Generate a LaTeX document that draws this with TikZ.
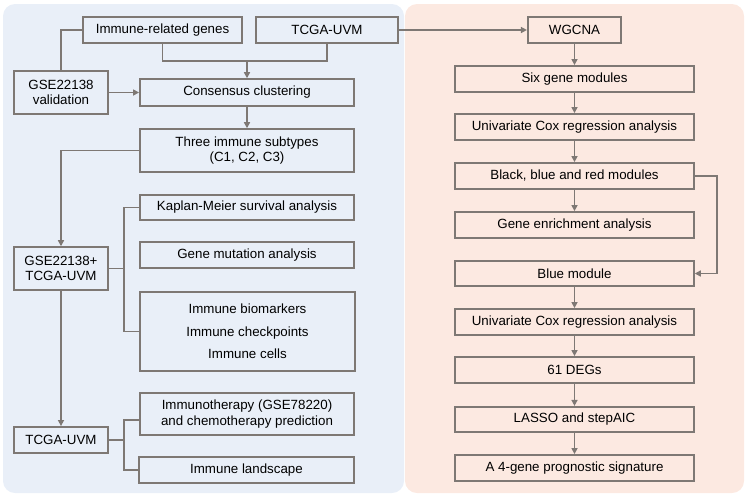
\documentclass[tikz,border=0pt]{standalone}
\usepackage{fontspec}
\setmainfont{Liberation Sans}
\usetikzlibrary{arrows.meta}

\definecolor{linegray}{RGB}{126,120,116}
\definecolor{leftbg}{RGB}{233,239,248}
\definecolor{rightbg}{RGB}{252,233,225}

\tikzset{every picture/.style={line width=1.4pt}}
\tikzset{
  box/.style={draw=linegray, line width=1.4pt, inner sep=0pt, align=center,
    font=\fontsize{10}{11.5}\selectfont},
  conn/.style={draw=linegray, line width=1.4pt},
  arr/.style={conn, -{Triangle[length=4.5pt,width=4.5pt]}}
}

\begin{document}
\begin{tikzpicture}[x=0.75pt,y=0.75pt,yscale=-1,xscale=1]
\useasboundingbox (0,0) rectangle (748,501);

%Shape: Rounded Rect [left panel]
\fill [leftbg, rounded corners=9pt] (3,4) rectangle (404,493);
%Shape: Rounded Rect [right panel]
\fill [rightbg, rounded corners=9pt] (405,4) rectangle (744,493);

% Text Node
\node (genes) [box, minimum width=119pt, minimum height=19.5pt] at (162.5,30) {Immune-related genes};
% Text Node
\node (tcga) [box, minimum width=106.5pt, minimum height=19.5pt] at (327,30) {TCGA-UVM};
% Text Node
\node (gse) [box, minimum width=70.5pt, minimum height=32pt] at (61,92.5) {GSE22138\\validation};
% Text Node
\node (cons) [box, minimum width=160.5pt, minimum height=20pt] at (247,92.5) {Consensus clustering};
% Text Node
\node (three) [box, minimum width=160.5pt, minimum height=32pt] at (247,150.5) {Three immune subtypes\\(C1, C2, C3)};
% Text Node
\node (gsetc) [box, minimum width=70.5pt, minimum height=32pt] at (61,268.5) {GSE22138+\\TCGA-UVM};
% Text Node
\node (km) [box, minimum width=160.5pt, minimum height=19pt] at (247,207.5) {Kaplan-Meier survival analysis};
% Text Node
\node (mut) [box, minimum width=160.5pt, minimum height=19.5pt] at (247,255) {Gene mutation analysis};
% Text Node
\node (marks) [box, minimum width=161pt, minimum height=59pt] at (247.5,331.5) {Immune biomarkers\\[5.5pt]Immune checkpoints\\[5.5pt]Immune cells};
% Text Node
\node (tcgab) [box, minimum width=70.5pt, minimum height=19.5pt] at (61,440) {TCGA-UVM};
% Text Node
\node (immuno) [box, minimum width=160.5pt, minimum height=31.5pt] at (247,414) {Immunotherapy (GSE78220)\\and chemotherapy prediction};
% Text Node
\node (land) [box, minimum width=161pt, minimum height=19.5pt] at (246.5,470) {Immune landscape};

% Text Node
\node (wgcna) [box, minimum width=70pt, minimum height=19.5pt] at (574.5,30) {WGCNA};
% Text Node
\node (six) [box, minimum width=179pt, minimum height=19.5pt] at (574.5,79) {Six gene modules};
% Text Node
\node (coxa) [box, minimum width=179pt, minimum height=19.5pt] at (574.5,127) {Univariate Cox regression analysis};
% Text Node
\node (bbr) [box, minimum width=179pt, minimum height=19.5pt] at (574.5,176) {Black, blue and red modules};
% Text Node
\node (enrich) [box, minimum width=179pt, minimum height=19.5pt] at (574.5,225) {Gene enrichment analysis};
% Text Node
\node (blue) [box, minimum width=179pt, minimum height=19pt] at (574.5,273.5) {Blue module};
% Text Node
\node (coxb) [box, minimum width=179pt, minimum height=19.5pt] at (574.5,322) {Univariate Cox regression analysis};
% Text Node
\node (degs) [box, minimum width=179pt, minimum height=19.5pt] at (574.5,370) {61 DEGs};
% Text Node
\node (lasso) [box, minimum width=179pt, minimum height=19pt] at (574.5,419.5) {LASSO and stepAIC};
% Text Node
\node (sig) [box, minimum width=179pt, minimum height=19.5pt] at (574.5,468) {A 4-gene prognostic signature};

%Straight Lines [left]
\coordinate (mrg) at (247,61);
\coordinate (busa) at (124,0);
\draw [conn] (gse.north) |- (genes.west);
\draw [conn] (genes.south) |- (mrg) -| (tcga.south);
\draw [arr] (mrg) -- (cons.north);
\draw [arr] (gse.east) -- (cons.west);
\draw [arr] (cons) -- (three);
\draw [arr] (three.west) -| (gsetc.north);
\draw [conn] (gsetc.east) -- (gsetc.east -| busa);
\draw [conn] (km.west) -| (busa |- marks.west) -- (marks.west);
\draw [arr] (gsetc) -- (tcgab);
\draw [conn] (tcgab.east) -- (tcgab.east -| busa);
\draw [conn] ([yshift=4.5pt]immuno.west) -| (busa |- land.west) -- (land.west);

%Straight Lines [right]
\draw [arr] (tcga.east) -- (wgcna.west);
\draw [arr] (wgcna) -- (six);
\draw [arr] (six) -- (coxa);
\draw [arr] (coxa) -- (bbr);
\draw [arr] (bbr) -- (enrich);
\draw [arr] (bbr.east) -- ++(22,0) |- (blue.east);
\draw [arr] (blue) -- (coxb);
\draw [arr] (coxb) -- (degs);
\draw [arr] (degs) -- (lasso);
\draw [arr] (lasso) -- (sig);

\end{tikzpicture}
\end{document}
